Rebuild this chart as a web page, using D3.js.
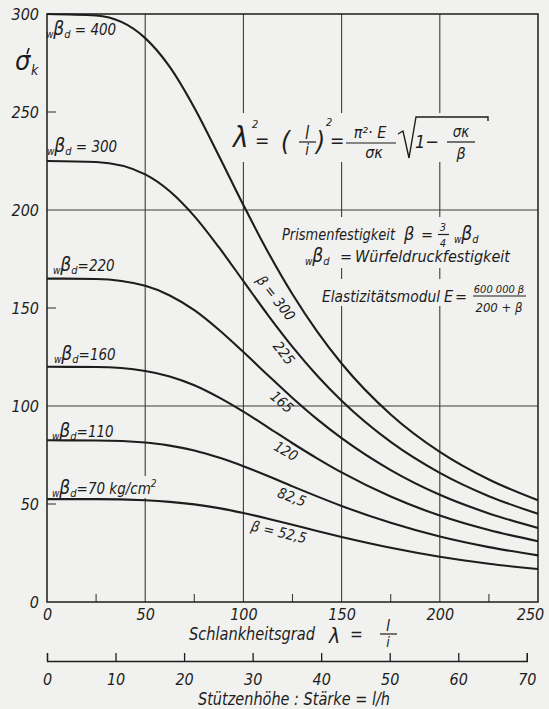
<!DOCTYPE html>
<html><head><meta charset="utf-8">
<script src="https://cdn.jsdelivr.net/npm/d3@7"></script>
<style>
html,body{margin:0;padding:0;background:#f1f1ef;}
svg{display:block;}
text{font-family:"DejaVu Sans Condensed","DejaVu Sans",sans-serif;font-style:oblique;fill:#1d1d1d;}
</style></head><body>
<svg id="c" width="549" height="709"></svg>
<script>
// ---------- data ----------
const lambdaValues = [0, 25, 50, 62.5, 75, 87.5, 100, 112.5, 125, 137.5, 150, 175, 200, 225, 250];
const sigma300  = [300, 299.2, 287.7, 273.0, 252.2, 227.7, 202.5, 178.6, 157.0, 138.1, 121.7, 95.7, 76.6, 62.5, 51.9];
const sigma225  = [225, 224.5, 218.2, 209.6, 196.9, 181.0, 163.7, 146.4, 130.2, 115.6, 102.7, 81.7, 65.9, 54.0, 45.0];
const sigma165  = [165, 164.8, 161.3, 156.4, 148.9, 138.9, 127.5, 115.7, 104.1, 93.3, 83.6, 67.3, 54.7, 45.2, 37.8];
const sigma120  = [120, 119.9, 117.9, 115.1, 110.6, 104.4, 97.1, 89.1, 81.0, 73.3, 66.1, 53.8, 44.1, 36.7, 31.0];
const sigma82_5 = [82.5, 82.4, 81.4, 79.8, 77.3, 73.7, 69.3, 64.3, 59.0, 53.9, 49.0, 40.4, 33.4, 28.0, 23.8];
const sigma52_5 = [52.5, 52.5, 51.9, 51.1, 49.8, 47.9, 45.4, 42.5, 39.4, 36.2, 33.2, 27.7, 23.1, 19.5, 16.8];
const seriesValues = [sigma300, sigma225, sigma165, sigma120, sigma82_5, sigma52_5];
const cubeStrength = ["400", "300", "220", "160", "110", "70"];
const curveLabels = ["β = 300", "225", "165", "120", "82,5", "β = 52,5"];
const xTicks = [0, 50, 100, 150, 200, 250];
const xMinorTicks = [25, 75, 125, 175, 225];
const yTicks = [0, 50, 100, 150, 200, 250, 300];
const ratioTicks = [0, 10, 20, 30, 40, 50, 60, 70];
const lambdaPerRatio = 3.49;   // Schlankheitsgrad per unit of l/h (≈ √12)

// ---------- layout ----------
const paper = "#f1f1ef", ink = "#1d1d1d", gridInk = "#3c3c3c";
const svg = d3.select("#c");
svg.append("rect").attr("width", 549).attr("height", 709).attr("fill", paper);

const x = d3.scaleLinear().domain([0, 250]).range([47, 538]);
const y = d3.scaleLinear().domain([0, 300]).range([602, 14]);

// grid
const grid = svg.append("g").attr("stroke", gridInk).attr("stroke-width", 1.1).attr("fill", "none");
xTicks.filter(v => v > 0 && v < 250).forEach(v =>
  grid.append("line").attr("x1", x(v)).attr("x2", x(v)).attr("y1", y(0)).attr("y2", y(300)));
yTicks.filter(v => v > 0 && v < 300 && v % 100 === 0).forEach(v =>
  grid.append("line").attr("x1", x(0)).attr("x2", x(250)).attr("y1", y(v)).attr("y2", y(v)));
yTicks.filter(v => v % 100 === 50).forEach(v =>
  grid.append("line").attr("x1", x(0)).attr("x2", x(0) + 9).attr("y1", y(v)).attr("y2", y(v)));
xMinorTicks.forEach(v =>
  grid.append("line").attr("x1", x(v)).attr("x2", x(v)).attr("y1", y(0)).attr("y2", y(0) - 8));

// paper masks behind the annotation text
const masks = [[232, 113, 260, 49], [279, 217, 230, 51], [318, 279, 209, 27], [468, 279, 59, 39], [130, 476, 30, 22]];
masks.forEach(m => svg.append("rect").attr("x", m[0]).attr("y", m[1]).attr("width", m[2]).attr("height", m[3]).attr("fill", paper));

// frame
svg.append("rect").attr("x", x(0)).attr("y", y(300)).attr("width", x(250) - x(0)).attr("height", y(0) - y(300))
  .attr("fill", "none").attr("stroke", ink).attr("stroke-width", 1.5);

// curves
const line = d3.line().x((d, i) => x(lambdaValues[i])).y(d => y(d)).curve(d3.curveMonotoneX);
svg.append("g").selectAll("path").data(seriesValues).join("path")
  .attr("d", line).attr("fill", "none").attr("stroke", ink).attr("stroke-width", 2.1);

// axes
function styleAxis(g, size) {
  g.attr("font-family", null).attr("font-size", size);
  g.selectAll("text").attr("fill", ink);
}
const xAxis = svg.append("g").attr("transform", `translate(0,${y(0)})`)
  .call(d3.axisBottom(x).tickValues(xTicks).tickSize(0).tickPadding(7));
xAxis.select(".domain").remove();
styleAxis(xAxis, 16);
xAxis.selectAll(".tick text").filter(d => d === 250).attr("dx", -8);

const yAxis = svg.append("g").attr("transform", `translate(${x(0)},0)`)
  .call(d3.axisLeft(y).tickValues(yTicks).tickSize(0).tickPadding(8));
yAxis.select(".domain").remove();
styleAxis(yAxis, 16);

const xs = d3.scaleLinear().domain([0, 70]).range([x(0), x(70 * lambdaPerRatio)]);
const sAxis = svg.append("g").attr("transform", "translate(0,661)")
  .call(d3.axisBottom(xs).tickValues(ratioTicks).tickSize(-8).tickPadding(13));
sAxis.selectAll("line,path").attr("stroke", ink).attr("stroke-width", 1.3);
styleAxis(sAxis, 16);

// y-axis symbol σ'k
svg.append("text").attr("x", 15).attr("y", 70).attr("font-size", 27).text("σ");
svg.append("text").attr("x", 31).attr("y", 75).attr("font-size", 14).text("k");
svg.append("path").attr("d", "M29,48 L27,54").attr("stroke", ink).attr("stroke-width", 1.6);

// left labels  wβd = ...
const leftLayout = [[46, 35, " = "], [47, 152, " = "], [53, 271, "="], [54, 360, "="], [52, 437, "="], [52, 494, "="]];
cubeStrength.forEach((v, i) => {
  const [lx, ly, eq] = leftLayout[i];
  const t = svg.append("text").attr("x", lx).attr("y", ly).attr("font-size", 15);
  t.append("tspan").attr("font-size", 10).attr("dy", 3).text("w");
  t.append("tspan").attr("font-size", 19).attr("dy", -3).text("β");
  t.append("tspan").attr("font-size", 11).attr("dy", 3).text("d");
  t.append("tspan").attr("dy", -3).text(eq + v + (i === 5 ? " kg/cm" : ""));
  if (i === 5) t.append("tspan").attr("font-size", 10).attr("dy", -7).text("2");
});

// curve labels along the curves
const labelLayout = [[276, 298, 52], [284, 353, 52], [282, 402, 41], [286, 451, 30], [292, 497, 20], [279, 532, 13]];
curveLabels.forEach((s, i) => {
  const [cx, cy, a] = labelLayout[i];
  svg.append("text").attr("transform", `translate(${cx},${cy}) rotate(${a})`)
    .attr("text-anchor", "middle").attr("dy", "0.35em").attr("font-size", 14.5).text(s);
});

// formula
function tx(px, py, size, s, anchor) {
  return svg.append("text").attr("x", px).attr("y", py).attr("font-size", size)
    .attr("text-anchor", anchor || "start").text(s);
}
function hl(x1, x2, yy) {
  svg.append("line").attr("x1", x1).attr("x2", x2).attr("y1", yy).attr("y2", yy).attr("stroke", ink).attr("stroke-width", 1.2);
}
tx(233, 147, 29, "λ");
tx(252, 128, 11, "2");
tx(255, 147, 19, "=");
tx(281, 150, 26, "(");
tx(307, 139, 17, "l", "middle"); hl(299, 316, 142); tx(307, 155, 15, "i", "middle");
tx(316, 150, 26, ")");
tx(326, 126, 11, "2");
tx(330, 147, 19, "=");
tx(370, 138, 16, "π²· E", "middle"); hl(346, 396, 143); tx(374, 158, 16, "σκ", "middle");
svg.append("path").attr("d", "M398,134 L403,131 L409,158 L416,117 L488,117 L488,121")
  .attr("fill", "none").attr("stroke", ink).attr("stroke-width", 1.4);
tx(415, 148, 18, "1−");
tx(461, 137, 15, "σκ", "middle"); hl(447, 475, 142); tx(461, 159, 16, "β", "middle");

// notes
tx(282, 240, 16, "Prismenfestigkeit").attr("textLength", 113).attr("lengthAdjust", "spacingAndGlyphs");
tx(404, 240, 18, "β");
tx(421, 240, 16, "=");
tx(443, 231, 11, "3", "middle"); hl(438, 449, 234.5); tx(443, 247, 11, "4", "middle");
const pw = svg.append("text").attr("x", 454).attr("y", 240).attr("font-size", 15);
pw.append("tspan").attr("font-size", 10).attr("dy", 3).text("w");
pw.append("tspan").attr("font-size", 19).attr("dy", -3).text("β");
pw.append("tspan").attr("font-size", 11).attr("dy", 3).text("d");

const ww = svg.append("text").attr("x", 305).attr("y", 262).attr("font-size", 15);
ww.append("tspan").attr("font-size", 10).attr("dy", 3).text("w");
ww.append("tspan").attr("font-size", 19).attr("dy", -3).text("β");
ww.append("tspan").attr("font-size", 11).attr("dy", 3).text("d");
tx(340, 262, 16, "=");
tx(355, 262, 16, "Würfeldruckfestigkeit").attr("textLength", 155).attr("lengthAdjust", "spacingAndGlyphs");

tx(322, 302, 16, "Elastizitätsmodul").attr("textLength", 118).attr("lengthAdjust", "spacingAndGlyphs");
tx(444, 302, 16, "E");
tx(455, 302, 16, "=");
tx(499, 293, 11, "600 000 β", "middle"); hl(473, 526, 296); tx(499, 312, 13, "200 + β", "middle");

// axis titles
tx(189, 640, 17, "Schlankheitsgrad").attr("textLength", 126).attr("lengthAdjust", "spacingAndGlyphs");
tx(329, 643, 21, "λ");
tx(350, 640, 17, "=");
tx(388, 631, 16, "l", "middle"); hl(380, 397, 634); tx(388, 647, 14, "i", "middle");
tx(198, 705, 17, "Stützenhöhe : Stärke = l/h").attr("textLength", 192).attr("lengthAdjust", "spacingAndGlyphs");
</script>
</body></html>
